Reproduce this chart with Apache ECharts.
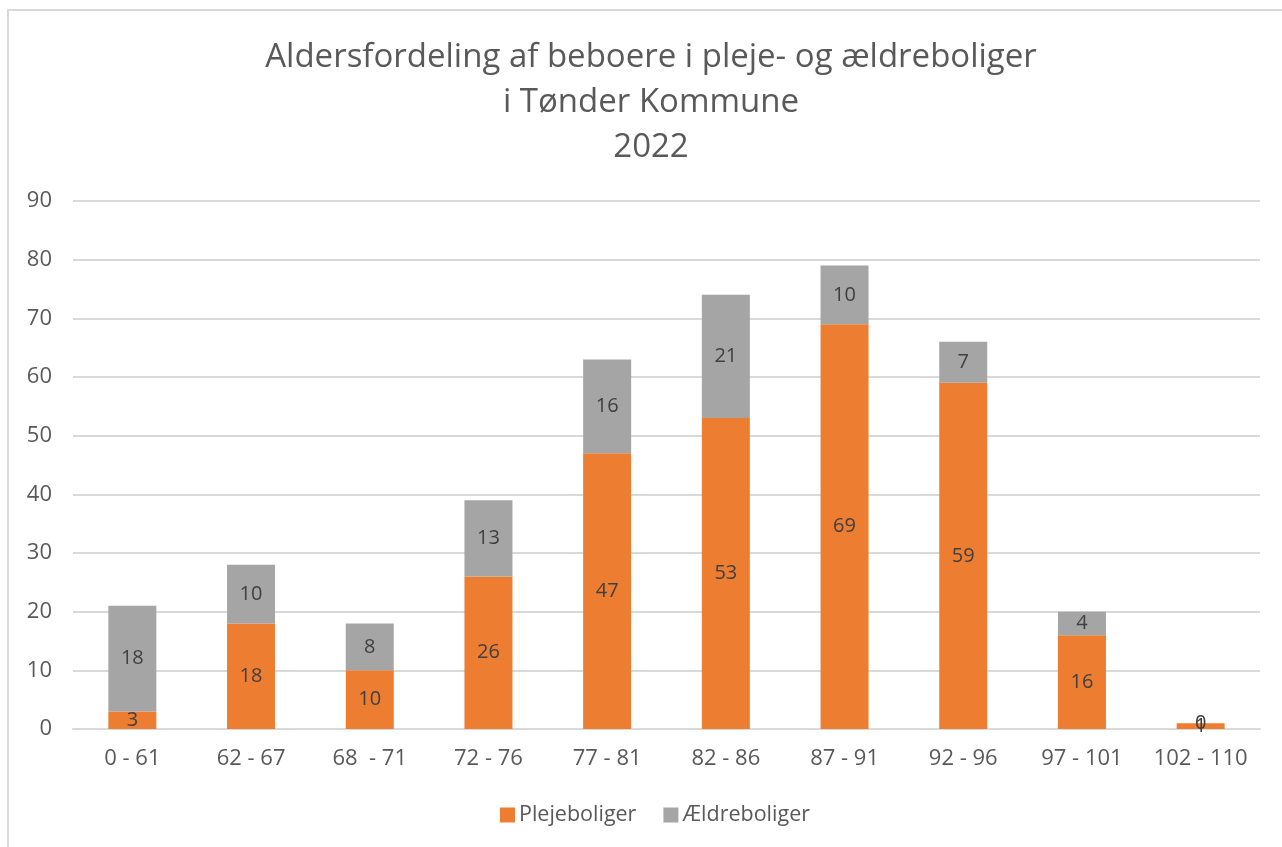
<!DOCTYPE html>
<html lang="da">
<head>
    <meta charset="utf-8">
    <title>Aldersfordeling</title>
    <script src="https://cdn.jsdelivr.net/npm/echarts@6/dist/echarts.min.js"></script>
    <style>
        html, body { margin: 0; padding: 0; background: #fff; }
        #chart { width: 1282px; height: 847px; }
    </style>
</head>
<body>
<div id="chart"></div>
<script>
    // data
    var categories = ['0 - 61', '62 - 67', '68  - 71', '72 - 76', '77 - 81', '82 - 86', '87 - 91', '92 - 96', '97 - 101', '102 - 110'];
    var plejeboliger = [3, 18, 10, 26, 47, 53, 69, 59, 16, 1];
    var aeldreboliger = [18, 10, 8, 13, 16, 21, 10, 7, 4, 0];
    var titleText = 'Aldersfordeling af beboere i pleje- og ældreboliger\ni Tønder Kommune\n2022';

    var font = '"Open Sans", sans-serif';

    var chart = echarts.init(document.getElementById('chart'));

    var labelStyle = {
        show: true,
        position: 'inside',
        color: '#404040',
        fontSize: 20,
        fontFamily: font
    };

    var option = {
        animation: false,
        textStyle: { fontFamily: font },
        graphic: [{
            type: 'rect',
            shape: { x: 8, y: 10, width: 1290, height: 850 },
            style: { fill: 'none', stroke: '#d9d9d9', lineWidth: 2 },
            silent: true
        }],
        title: {
            text: titleText,
            left: 651,
            textAlign: 'center',
            top: 35,
            padding: 0,
            textStyle: {
                color: '#595959',
                fontSize: 33,
                fontWeight: 'normal',
                fontFamily: font,
                lineHeight: 45
            }
        },
        legend: {
            bottom: 21,
            left: 500,
            padding: 0,
            itemWidth: 15,
            itemHeight: 15,
            itemGap: 27,
            icon: 'rect',
            textStyle: { color: '#595959', fontSize: 21.5, fontFamily: font, padding: [0, 0, 0, -1] },
            data: ['Plejeboliger', 'Ældreboliger']
        },
        grid: {
            left: 73,
            right: 22,
            top: 201,
            bottom: 118,
            containLabel: false
        },
        xAxis: {
            type: 'category',
            data: categories,
            axisLine: { lineStyle: { color: '#d9d9d9', width: 2 } },
            axisTick: { show: false },
            axisLabel: { color: '#595959', fontSize: 22, margin: 19, interval: 0, fontFamily: font }
        },
        yAxis: {
            type: 'value',
            min: 0,
            max: 90,
            interval: 10,
            axisLine: { show: false },
            axisTick: { show: false },
            axisLabel: { color: '#595959', fontSize: 22, margin: 21, fontFamily: font },
            splitLine: { lineStyle: { color: '#d9d9d9', width: 2 } }
        },
        series: [
            {
                name: 'Plejeboliger',
                type: 'bar',
                stack: 'total',
                barWidth: 48,
                itemStyle: { color: '#ed7d31' },
                label: labelStyle,
                data: plejeboliger
            },
            {
                name: 'Ældreboliger',
                type: 'bar',
                stack: 'total',
                barWidth: 48,
                itemStyle: { color: '#a5a5a5' },
                label: labelStyle,
                data: aeldreboliger
            }
        ]
    };

    chart.setOption(option);
</script>
</body>
</html>
